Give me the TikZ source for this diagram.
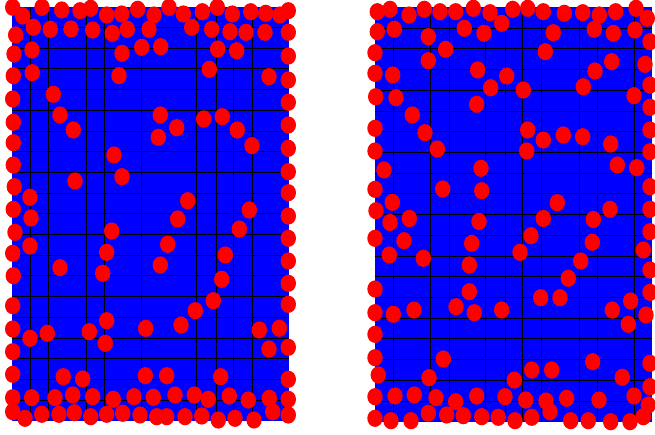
\documentclass[tikz,border=0pt]{standalone}
\begin{document}
\begin{tikzpicture}[x=1pt,y=-1pt,
  panel/.style={fill={rgb,255:red,0;green,0;blue,255}},
  gridline/.style={black,line width=0.7pt},
  dot/.style={fill={rgb,255:red,255;green,0;blue,0}}]
\useasboundingbox (0,0) rectangle (655,435);
% left panel
\fill[panel] (11.7,6.7) rectangle (289,420.7);
\foreach \gx in {30.7,48.7,86,104.7,141.3,196.7,216,233.3,252.7}
  \draw[gridline] (\gx,6.7) -- (\gx,420.7);
\foreach \k in {1,...,19}
  \draw[gridline] (11.7,6.7+20.7*\k) -- (289,6.7+20.7*\k);
% right panel
\fill[panel] (374.5,7.3) rectangle (651.7,421.7);
\foreach \gx in {393.3,430.7,449,485.7,505,522.7,541.7,579,597.7,634.3}
  \draw[gridline] (\gx,7.3) -- (\gx,421.7);
\foreach \k in {1,...,19}
  \draw[gridline] (374.5,7.3+20.72*\k) -- (651.7,7.3+20.72*\k);
% left dots
\foreach \p in {(12.7,7.3),(22.7,16),(42,7.3),(61.7,10),(80,10.7),(90.7,8.3),(106.7,15),(121.7,14),(137.7,9.3),(154,15),(169,7.3),(183.3,14),(202.3,11.7),(217.3,7.3),(232.3,14),(250.7,11.7),(265.7,13.3),(280,15),(288.3,10.7),
(33.3,27.3),(15.7,35),(50.3,29.3),(71,29),(92.7,30),(112.3,33.3),(127.3,29.3),(149,29.3),(191.7,27.3),(211.7,29.3),(230,31.7),(246,32.3),(265,32.3),(288.3,32.3),
(14,54),(32,50),(122,53.3),(141.7,47.3),(160.7,46.7),(217.7,49),(236.7,50.7),(288.3,56),
(13.3,75.7),(32.3,72.7),(119,75.7),(209.3,69.3),(269,76.7),(288.3,80),
(12.7,99),(53.3,94.3),(288.3,102.3),(13.3,122.3),(60,115),(73.3,130),(160.3,115),(176.7,127.7),(158.3,137.3),(203.7,119),(222.3,116.7),(237.3,130),(252,145.7),(288.3,125),(13.3,142.7),(114,155),(288.3,148.3),(13.3,165),(122,176.7),(75,181),(288.3,171.7),(14.3,186.7),(30,197.3),(187.7,200.7),(288.3,192.7),(13.3,209.3),(31,218),(177.7,219),(249.3,210),(288.3,216),
(15,232.3),(30,246),(111.7,231),(106.7,252.3),(12.7,253.3),(60,267.7),(102.7,273.3),(13.3,275.7),(167.7,244.3),(160.3,265),(239.3,229),(225.3,255),(221.7,279.3),(213.3,300.7),(195.3,310.7),(181,325),(288.3,238.3),(288.3,261),(288.3,283.3),(288.3,304.3),(12.7,305.7),(106.7,320.7),(89.3,331.7),(105.3,343.3),(145.7,328.3),(12.7,329),(30,338.3),(47.3,333.3),(259.3,330),(279.3,328.3),(269,349),(288.3,347.3),(12.7,351.7),(12.7,374.3),(63.3,376.7),(82.7,379),(145.3,375.7),(166.7,375.7),(220.7,376.7),(288.3,379.3),
(12.7,397.7),(31.7,397.7),(55,397.7),(72.7,395),(92.7,396.7),(113.3,399.3),(134,396.7),(153.3,397.3),(175,395),(194.3,395),(208.3,399.3),(229.3,396),(248.3,400),(269.3,398.3),(288.3,399.3),
(12.7,411.7),(25,418.3),(41.7,414.3),(59,414.3),(74.3,412.7),(90.7,416.7),(106.7,414.3),(122.7,413.3),(140,415),(156.7,416.7),(166.7,416.7),(185,416.7),(201.7,416),(218.3,420),(235,418.3),(254,420),(272.7,411.7),(288.3,415)}
  \fill[dot] \p ellipse [x radius=7.7pt, y radius=8.6pt];
% right dots
\foreach \p in {(377.3,11.7),(390,9.3),(409,15),(424.3,9.3),(440,11.7),(455.7,11.7),(473.3,8.3),(490,12.7),(512.7,9.3),(527.7,8.3),(543.3,11.7),(564.3,13.3),(582.7,12.7),(599.3,15),(615.7,11.7),(636,8.3),(647.3,18.3),
(377.3,31.7),(394.3,29.3),(428.3,36.7),(464.3,28.3),(484,33.3),(501.7,23.3),(553.3,32.7),(594.3,29.3),(613.3,33.3),(635,30),(650,41.7),
(375,52.7),(445.7,49.3),(545.3,51.7),(428.3,60.7),(611.7,61.7),(645,64.3),(375,73.3),(392.7,75),(477.7,70),(506.7,76),(595,71),(650,85),
(375.7,96.7),(396,97.7),(490.7,87.7),(523.3,90),(583.3,86.7),(634,95.7),(476.7,104.3),(412.3,115),(650,107.3),
(375,128.3),(425,132.7),(527.7,130),(543.3,140),(563.3,135),(582.7,136.7),(610.7,144),(650,130),
(375,151),(437.3,149),(526.7,151),(650,151.7),(384,170),(481,168.3),(617.3,165),(636.7,167.7),
(375,189.3),(442.7,189),(481.7,190.7),(650,186.7),(392.3,202.3),(557.3,202.7),(376,210.7),(610,209.3),(650,209.3),
(390,222.5),(409.3,218.5),(479,221.5),(543.3,218.5),(593.3,219.5),
(375,238.3),(404,240.7),(389.3,255),(423.3,258.3),(471.7,243.3),(469.3,265),(531,235.7),(520,252.3),(592.3,242.3),(580.7,261),(568.3,278.3),(650,231.7),(643.3,250),(650,270),
(375,289),(469.3,291.7),(456,306.7),(474.3,312.7),(501.7,310),(540.7,297.7),(560,297.7),(650,292.3),(630.7,301),(612.3,310),(646,315),(628.3,324.3),
(375,312.7),(393.3,314.3),(414,310),(375,334.3),(375,357.7),(443.3,359),(592.7,361.7),(650,363.3),
(378.3,375),(429,377.7),(531.7,370),(551.7,370),(514.3,380),(622.3,377.3),(650,386.7),
(375,396.7),(395,396),(414.3,395),(436,397.7),(455.7,401.7),(476.7,396),(505,396.7),(525.7,400),(546,401),(566.7,398.3),(599,400),(634,396),(648.3,405),
(375,418.3),(391,420.7),(411,420.7),(428.3,413.3),(446.7,415),(463.3,415.7),(481.7,416.7),(498.3,417.3),(515,420.7),(531.7,417.3),(550,411.7),(570.7,420.7),(588.3,420.7),(610.7,421.7),(630,421.7),(643.3,416.7)}
  \fill[dot] \p ellipse [x radius=7.7pt, y radius=8.6pt];
\end{tikzpicture}
\end{document}
